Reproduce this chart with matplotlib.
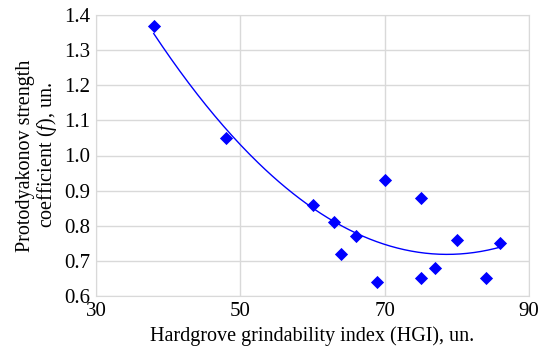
import numpy as np
import matplotlib
matplotlib.use("Agg")
import matplotlib.pyplot as plt

plt.rcParams['font.family'] = ['Liberation Serif', 'DejaVu Serif']
plt.rcParams['mathtext.fontset'] = 'custom'
plt.rcParams['mathtext.it'] = 'Liberation Serif:italic'
plt.rcParams['mathtext.rm'] = 'Liberation Serif'

hgi = [38, 48, 60, 63, 64, 66, 69, 70, 75, 75, 77, 80, 84, 86]
f_coef = [1.37, 1.05, 0.86, 0.81, 0.72, 0.77, 0.64, 0.93, 0.88, 0.65, 0.68, 0.76, 0.65, 0.75]
x_ticks = [30, 50, 70, 90]
y_ticks = [0.6, 0.7, 0.8, 0.9, 1.0, 1.1, 1.2, 1.3, 1.4]

fig = plt.figure(figsize=(5.4, 3.51), dpi=100)
ax = fig.add_axes([96/540, 1-296/351, (529-96)/540, (296-15)/351])

coef = np.polyfit(hgi, f_coef, 2)
xs = np.linspace(min(hgi), max(hgi), 200)
ax.plot(xs, np.polyval(coef, xs), color='#0000FF', lw=1, zorder=2)
ax.scatter(hgi, f_coef, marker='D', s=45, color='#0000FF', zorder=3, linewidths=0)

ax.set_xlim(30, 90)
ax.set_ylim(0.6, 1.4)
ax.set_xticks(x_ticks)
ax.set_yticks(y_ticks)
ax.set_yticklabels([f"{v:.1f}" for v in y_ticks])
ax.grid(True, color='#d9d9d9', lw=1)
ax.set_axisbelow(True)
for s in ax.spines.values():
    s.set_color('#d9d9d9')
ax.tick_params(length=0, labelsize=15, pad=4)
ax.set_xlabel('Hardgrove grindability index (HGI), un.', fontsize=14.5, labelpad=4)
ax.set_ylabel('Protodyakonov strength\ncoefficient ($f$), un.', fontsize=14.5, labelpad=4, linespacing=1.0)

fig.savefig('out.png', dpi=100)
